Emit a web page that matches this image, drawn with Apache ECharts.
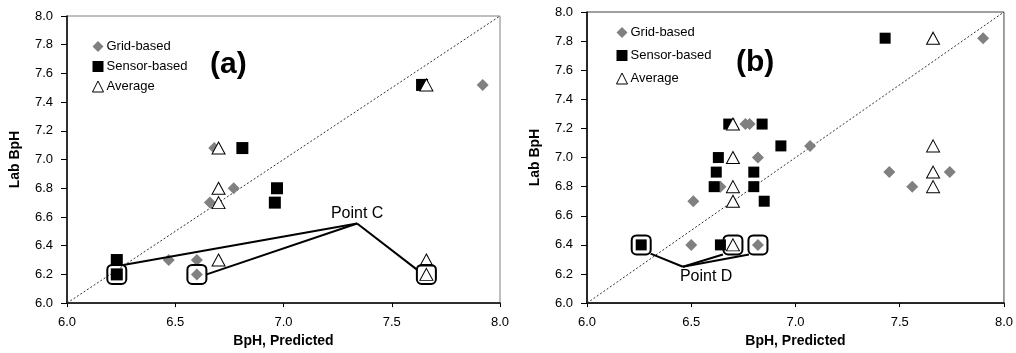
<!DOCTYPE html>
<html>
<head>
<meta charset="utf-8">
<script src="https://cdn.jsdelivr.net/npm/echarts@6/dist/echarts.min.js"></script>
<style>
  html, body { margin: 0; padding: 0; background: #fff; }
  #chart { width: 1016px; height: 353px; }
</style>
</head>
<body>
<div id="chart"></div>
<script>
// Panel (a): [predicted BpH, lab BpH]
const gridA = [[7.92, 7.52], [6.68, 7.08], [6.77, 6.80], [6.66, 6.70], [6.47, 6.30], [6.60, 6.30], [6.60, 6.20]];
const sensorA = [[7.64, 7.52], [6.81, 7.08], [6.97, 6.80], [6.96, 6.70], [6.23, 6.30], [6.23, 6.20]];
const averageA = [[7.66, 7.52], [6.70, 7.08], [6.70, 6.80], [6.70, 6.70], [6.70, 6.30], [7.66, 6.30], [7.66, 6.20]];
const boxedA = [[6.23, 6.20], [6.60, 6.20], [7.66, 6.20]];
const pointC = [7.34, 6.555];
const leaderEndsA = [[6.26, 6.265], [6.645, 6.20], [7.615, 6.235]];

// Panel (b): [predicted BpH, lab BpH]
const gridB = [[7.90, 7.82], [7.07, 7.08], [6.76, 7.23], [6.78, 7.23], [6.82, 7.00], [6.64, 6.80], [6.51, 6.70],
               [7.45, 6.90], [7.74, 6.90], [7.56, 6.80], [6.50, 6.40], [6.82, 6.40]];
const sensorB = [[7.43, 7.82], [6.68, 7.23], [6.84, 7.23], [6.93, 7.08], [6.63, 7.00], [6.62, 6.90], [6.80, 6.90],
                 [6.61, 6.80], [6.80, 6.80], [6.85, 6.70], [6.26, 6.40], [6.64, 6.40]];
const averageB = [[7.66, 7.82], [6.70, 7.23], [7.66, 7.08], [6.70, 7.00], [7.66, 6.90], [6.70, 6.80], [7.66, 6.80],
                  [6.70, 6.70], [6.70, 6.40]];
const boxedB = [[6.26, 6.40], [6.70, 6.40], [6.82, 6.40]];
const pointD = [6.46, 6.25];
const leaderEndsB = [[6.305, 6.34], [6.652, 6.334], [6.777, 6.334]];

// Axis range and 1:1 reference line
const axisMin = 6.0, axisMax = 8.0;
const xTickStep = 0.5, yTickStep = 0.2;
const oneToOne = [[axisMin, axisMin], [axisMax, axisMax]];

const seriesNames = ['Grid-based', 'Sensor-based', 'Average'];
const FONT = '"Liberation Sans", Arial, sans-serif';

function xAxisFor(idx) {
  return {
    gridIndex: idx, type: 'value', min: axisMin, max: axisMax, interval: xTickStep,
    name: 'BpH, Predicted', nameLocation: 'middle', nameGap: 30,
    nameTextStyle: { fontFamily: FONT, fontSize: 14, fontWeight: 'bold', color: '#000' },
    axisLine: { lineStyle: { color: '#000', width: 1.5 } },
    axisTick: { show: true, length: 4, inside: false, lineStyle: { color: '#000' } },
    axisLabel: { fontFamily: FONT, fontSize: 13, color: '#000', margin: 13, formatter: v => v.toFixed(1) },
    splitLine: { show: false }
  };
}
function yAxisFor(idx) {
  return {
    gridIndex: idx, type: 'value', min: axisMin, max: axisMax, interval: yTickStep,
    name: 'Lab BpH', nameLocation: 'middle', nameGap: 45,
    nameTextStyle: { fontFamily: FONT, fontSize: 14, fontWeight: 'bold', color: '#000' },
    axisLine: { lineStyle: { color: '#000', width: 1.5 } },
    axisTick: { show: true, length: 6, inside: false, lineStyle: { color: '#000' } },
    axisLabel: { fontFamily: FONT, fontSize: 13, color: '#000', margin: 14, formatter: v => v.toFixed(1) },
    splitLine: { show: false }
  };
}

function panelSeries(idx, grid, sensor, average, boxed, vertex, ends, calloutText, labelOpts, sq) {
  const list = [];
  list.push({
    type: 'line', xAxisIndex: idx, yAxisIndex: idx, data: oneToOne, symbol: 'none', silent: true,
    lineStyle: { color: '#333', width: 1, type: [2, 2] }, z: 1
  });
  list.push({
    name: seriesNames[0], type: 'scatter', xAxisIndex: idx, yAxisIndex: idx, data: grid,
    symbol: 'diamond', symbolSize: [12, 12], itemStyle: { color: '#808080', opacity: 1 }, z: 3
  });
  list.push({
    name: seriesNames[1], type: 'scatter', xAxisIndex: idx, yAxisIndex: idx, data: sensor,
    symbol: 'rect', symbolSize: sq, itemStyle: { color: '#000', opacity: 1 }, z: 4
  });
  list.push({
    name: seriesNames[2], type: 'scatter', xAxisIndex: idx, yAxisIndex: idx, data: average,
    symbol: 'triangle', symbolSize: [13, 12],
    itemStyle: { color: '#fff', borderColor: '#000', borderWidth: 1, opacity: 1 }, z: 5
  });
  list.push({
    type: 'scatter', xAxisIndex: idx, yAxisIndex: idx, data: boxed, silent: true,
    symbol: 'roundRect', symbolSize: 19,
    itemStyle: { color: 'rgba(0,0,0,0)', borderColor: '#000', borderWidth: 2, opacity: 1 }, z: 6
  });
  ends.forEach(end => {
    list.push({
      type: 'line', xAxisIndex: idx, yAxisIndex: idx, silent: true,
      data: [vertex, end], symbol: 'none',
      lineStyle: { color: '#000', width: 2 }, z: 7
    });
  });
  // callout text anchored at the leader-line vertex
  list.push({
    type: 'scatter', xAxisIndex: idx, yAxisIndex: idx, silent: true,
    data: [vertex], symbolSize: 1, itemStyle: { color: 'rgba(0,0,0,0)', opacity: 1 },
    label: Object.assign({ show: true, formatter: calloutText, fontFamily: FONT, fontSize: 16, color: '#000' }, labelOpts),
    z: 8
  });
  return list;
}

function legendFor(left, top, gap) {
  return {
    orient: 'vertical', left: left, top: top, itemGap: gap, itemWidth: 11, itemHeight: 11,
    selectedMode: false,
    textStyle: { fontFamily: FONT, fontSize: 13, color: '#000', padding: [0, 0, 0, -2] },
    data: [
      { name: seriesNames[0], icon: 'diamond', itemStyle: { color: '#808080' } },
      { name: seriesNames[1], icon: 'rect', itemStyle: { color: '#000' } },
      { name: seriesNames[2], icon: 'triangle', itemStyle: { color: '#fff', borderColor: '#000', borderWidth: 1 } }
    ]
  };
}

const chart = echarts.init(document.getElementById('chart'), null, { renderer: 'canvas' });
chart.setOption({
  backgroundColor: '#fff',
  animation: false,
  grid: [
    { left: 67, right: 516, top: 16, bottom: 48, show: true, borderColor: '#808080', borderWidth: 1 },
    { left: 587, right: 11, top: 12, bottom: 48, show: true, borderColor: '#404040', borderWidth: 1 }
  ],
  xAxis: [xAxisFor(0), xAxisFor(1)],
  yAxis: [yAxisFor(0), yAxisFor(1)],
  legend: [legendFor(87, 35, 7), legendFor(611, 21, 10)],
  graphic: [
    { type: 'text', left: 210, top: 50, style: { text: '(a)', font: 'bold 30px ' + FONT, fill: '#000' } },
    { type: 'text', left: 736, top: 48, style: { text: '(b)', font: 'bold 30px ' + FONT, fill: '#000' } }
  ],
  series: [].concat(
    panelSeries(0, gridA, sensorA, averageA, boxedA, pointC, leaderEndsA, 'Point C',
                { position: 'top', distance: 1 }, 12),
    panelSeries(1, gridB, sensorB, averageB, boxedB, pointD, leaderEndsB, 'Point D',
                { position: 'bottom', align: 'left', offset: [-3, 0], distance: 1 }, 11)
  )
});
</script>
</body>
</html>
